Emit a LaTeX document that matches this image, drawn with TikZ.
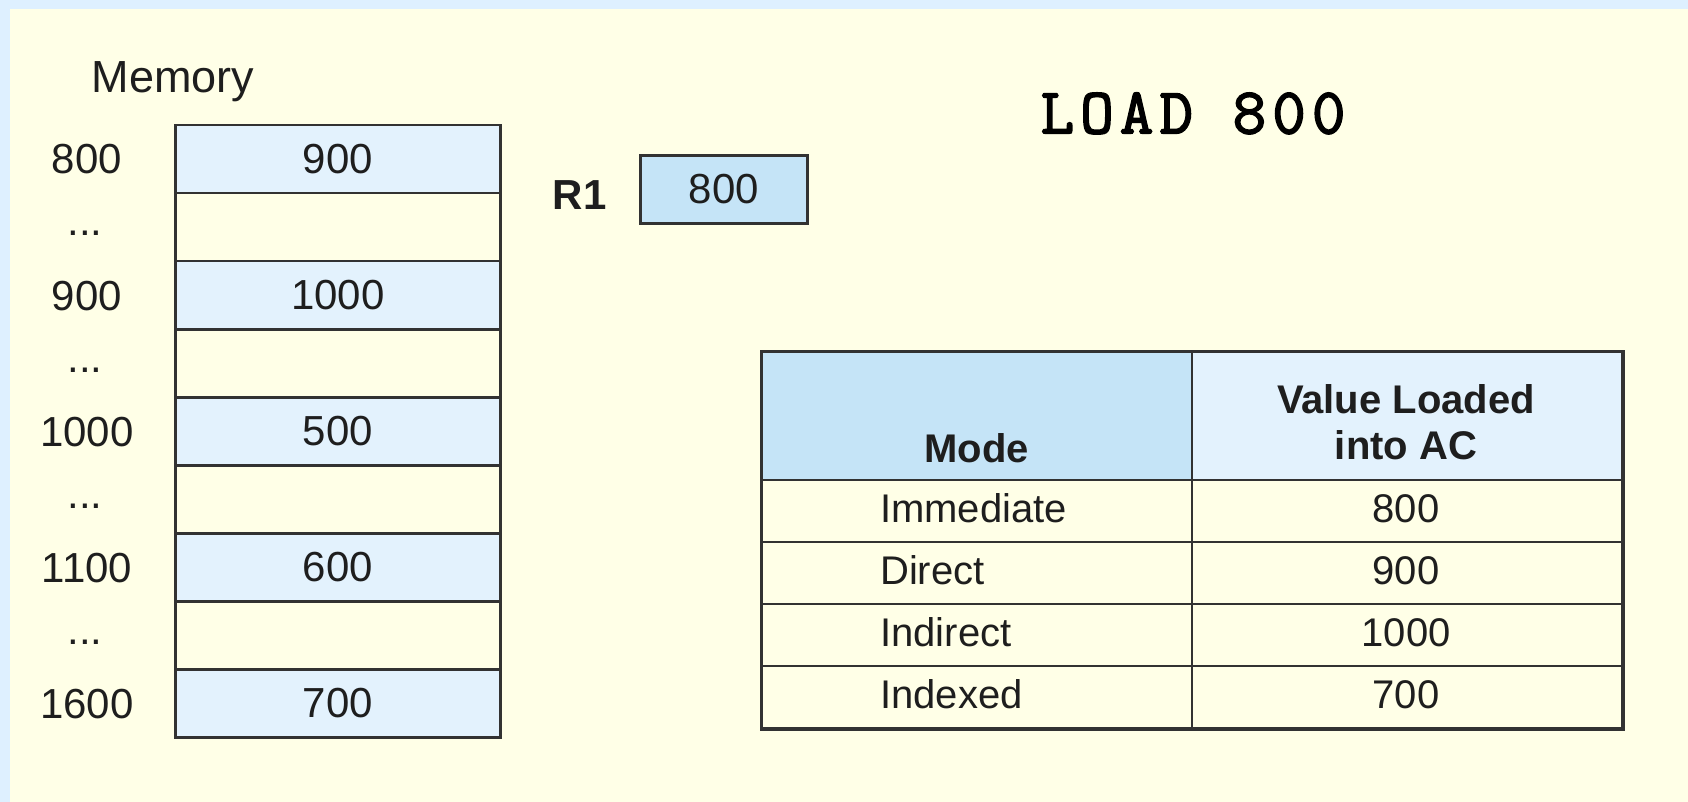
\documentclass[tikz,border=0pt]{standalone}
\usepackage{fontspec}
\setmainfont{Liberation Sans}
\newfontfamily\loadfont[LetterSpace=9.5,FakeBold=2.5]{Latin Modern Mono}
\definecolor{frameblue}{RGB}{222,240,255}
\definecolor{cream}{RGB}{255,255,231}
\definecolor{cellblue}{RGB}{227,242,253}
\definecolor{regblue}{RGB}{197,228,247}
\definecolor{linec}{RGB}{50,50,50}
\definecolor{txt}{RGB}{30,30,30}
\begin{document}
\begin{tikzpicture}[x=1pt,y=-1pt,
  memcell/.style={draw=linec, line width=2.5pt, minimum width=325pt, minimum height=68pt, inner sep=0pt, anchor=north west, text=txt, font=\fontsize{42}{50}\selectfont},
  addr/.style={anchor=base, inner sep=0pt, text=txt, font=\fontsize{42}{50}\selectfont},
  tcell/.style={draw=linec, line width=2pt, inner sep=0pt, anchor=north west, text=txt, font=\fontsize{40}{48}\selectfont},
  ttext/.style={inner sep=0pt, text=txt, font=\fontsize{40}{48}\selectfont},
  thead/.style={inner sep=0pt, anchor=base, text=txt, font=\fontsize{40}{48}\selectfont\bfseries}
]
\useasboundingbox (0,0) rectangle (1688,802);
\fill[frameblue] (0,0) rectangle (1688,802);
\fill[cream] (10,9) rectangle (1688,802);

% Memory
\node[addr, font=\fontsize{45}{52}\selectfont] (memlabel) at (173,93) {Memory};
\foreach \i/\v/\f in {0/900/cellblue,1//cream,2/1000/cellblue,3//cream,4/500/cellblue,5//cream,6/600/cellblue,7//cream,8/700/cellblue}{
  \node[memcell, fill=\f] (m\i) at (174,124+68*\i) {\v};
}
\foreach \i/\a in {0/800,2/900,4/1000,6/1100,8/1600}{
  \node[addr] (a\i) at (87,174+68*\i) {\a};
}
\foreach \i in {1,3,5,7}{
  \node[addr] (a\i) at (85,168+68*\i) {...};
}

% Register
\node[draw=linec, line width=2.5pt, fill=regblue, minimum width=166.6pt, minimum height=67.6pt, inner sep=0pt, text=txt, font=\fontsize{42}{50}\selectfont] (r1box) at (724,189.5) {800};
\node[anchor=base, inner sep=0pt, text=txt, font=\fontsize{42}{50}\selectfont\bfseries] (r1) at (579.7,210) {R1};

% Instruction
\node[anchor=base, inner sep=0pt, text=black, font=\fontsize{65}{70}\loadfont] (load) at (1193,133.3) {LOAD 800};

% Table
\node[tcell, fill=regblue, minimum width=429.5pt, minimum height=128pt] (hmode) at (761,351) {};
\node[tcell, fill=cellblue, minimum width=430.5pt, minimum height=128pt] (hval) at (1190.5,351) {};
\node[thead] (tmode) at ([yshift=19pt]hmode.south) {Mode};
\node[thead] (tval1) at (1406,413.3) {Value Loaded};
\node[thead] (tval2) at (1406,459.3) {into AC};
\foreach \i/\m/\v in {0/Immediate/800,1/Direct/900,2/Indirect/1000,3/Indexed/700}{
  \node[tcell, fill=cream, minimum width=429.5pt, minimum height=62pt] (c\i) at (761,479+62*\i) {};
  \node[tcell, fill=cream, minimum width=430.5pt, minimum height=62pt] (d\i) at (1190.5,479+62*\i) {};
  \node[ttext, anchor=base west] (cm\i) at (880,522+62*\i) {\m};
  \node[ttext, anchor=base] (dv\i) at (1406,522+62*\i) {\v};
}
\draw[linec, line width=3pt] (hmode.north west) rectangle (d3.south east);
\end{tikzpicture}
\end{document}
